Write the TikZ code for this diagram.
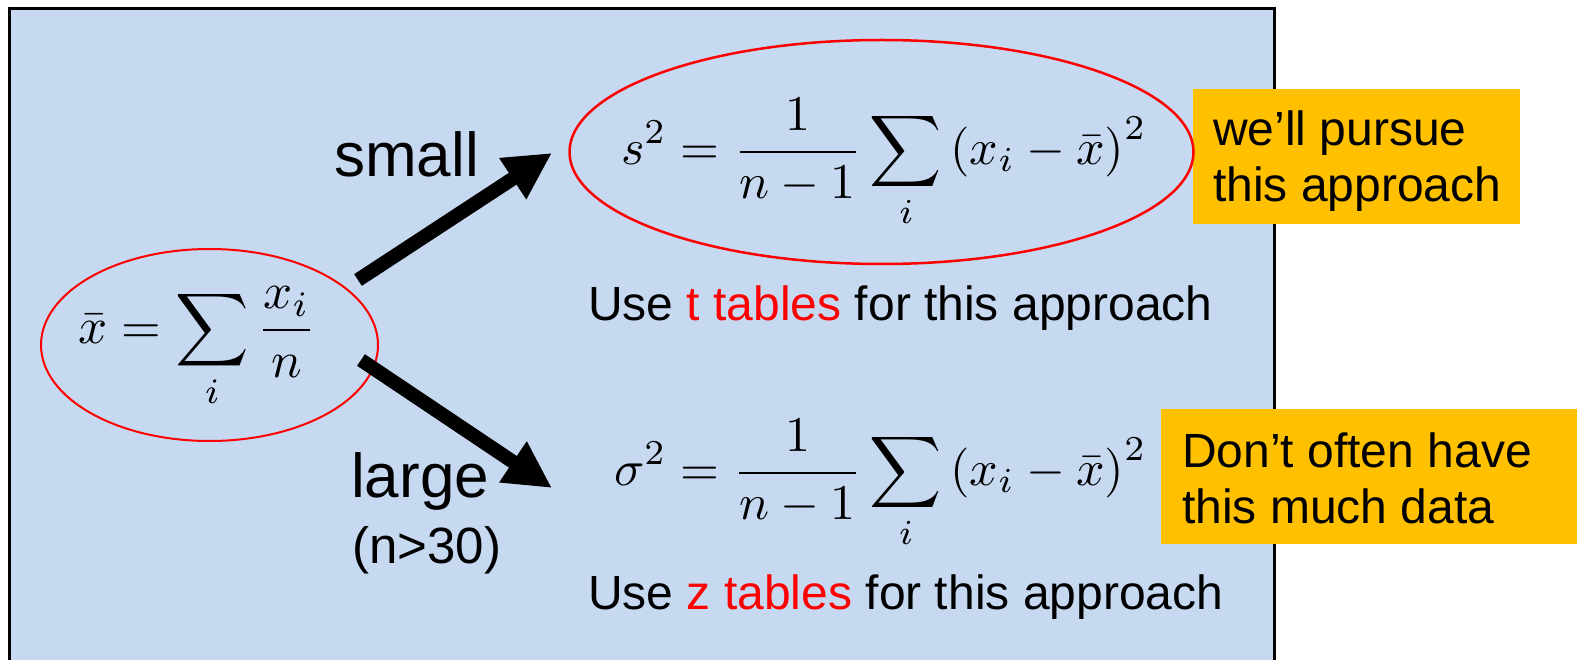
\documentclass[tikz,border=0pt]{standalone}
\usepackage[no-math]{fontspec}
\setmainfont{Liberation Sans}
\usetikzlibrary{arrows.meta,shapes.geometric}
\definecolor{bluebg}{HTML}{C6D9F1}
\definecolor{orangebox}{HTML}{FFC000}
\definecolor{redline}{HTML}{FF0000}
\tikzset{
  redell/.style={ellipse, draw=redline, inner sep=0pt},
  obox/.style={rectangle, fill=orangebox, inner sep=0pt},
  bigarrow/.style={line width=14pt, -{Triangle[length=47pt,width=46pt]}},
  lbl/.style={inner sep=0pt, anchor=base west, font=\fontsize{62}{70}\selectfont},
  smalllbl/.style={inner sep=0pt, anchor=base west, font=\fontsize{51}{58}\selectfont},
  note/.style={inner sep=0pt, anchor=base west, align=left, font=\fontsize{48}{56}\selectfont},
  formula/.style={inner sep=0pt, anchor=base west, transform shape}
}
\begin{document}
\begin{tikzpicture}[x=1pt,y=-1pt]
\useasboundingbox (0,0) rectangle (1577,660);
\fill[bluebg] (9,9) rectangle (1274,670);
\draw[line width=3pt] (9,670) -- (9,9) -- (1274,9) -- (1274,670);

% orange boxes
\node[obox, minimum width=327pt, minimum height=135pt] (b1) at (1356.5,156.5) {};
\node[obox, minimum width=420pt, minimum height=135pt] (b2) at (1371,476.5) {};
\node[note] (n1) at (1213,202) {we’ll pursue\\this approach};
\node[note] (n2) at (1182,523) {Don’t often have\\this much data};

% ellipses
\node[redell, line width=2pt, minimum width=337pt, minimum height=192pt] (e1) at (209.5,345) {};
\node[redell, line width=2.5pt, minimum width=624pt, minimum height=224pt] (e2) at (881.5,152) {};

% formulas
\node[formula, scale=5.1] (f1) at (77,343)
  {$\displaystyle \bar{x}=\sum_i \frac{x_i}{n}$};
\node[formula, scale=5.0] (f2) at (620,164.5)
  {$\displaystyle s^2=\frac{1}{n-1}\sum_i\left(x_i-\bar{x}\right)^2$};
\node[formula, scale=5.0] (f3) at (613,485.5)
  {$\displaystyle \sigma^2=\frac{1}{n-1}\sum_i\left(x_i-\bar{x}\right)^2$};

% arrows
\coordinate (a1s) at (358,280);
\coordinate (a1e) at (552,153);
\coordinate (a2s) at (361,360);
\coordinate (a2e) at (552,488);
\draw[bigarrow] (a1s) -- (a1e);
\draw[bigarrow] (a2s) -- (a2e);

% labels
\node[lbl] (small) at (334,177) {small};
\node[lbl] (large) at (351,497) {large};
\node[smalllbl] (n30) at (352,563) {(n>30)};
\node[note] (ut) at (588,321) {Use \textcolor{redline}{t tables} for this approach};
\node[note] (uz) at (588,609) {Use \textcolor{redline}{z tables} for this approach};
\end{tikzpicture}
\end{document}
